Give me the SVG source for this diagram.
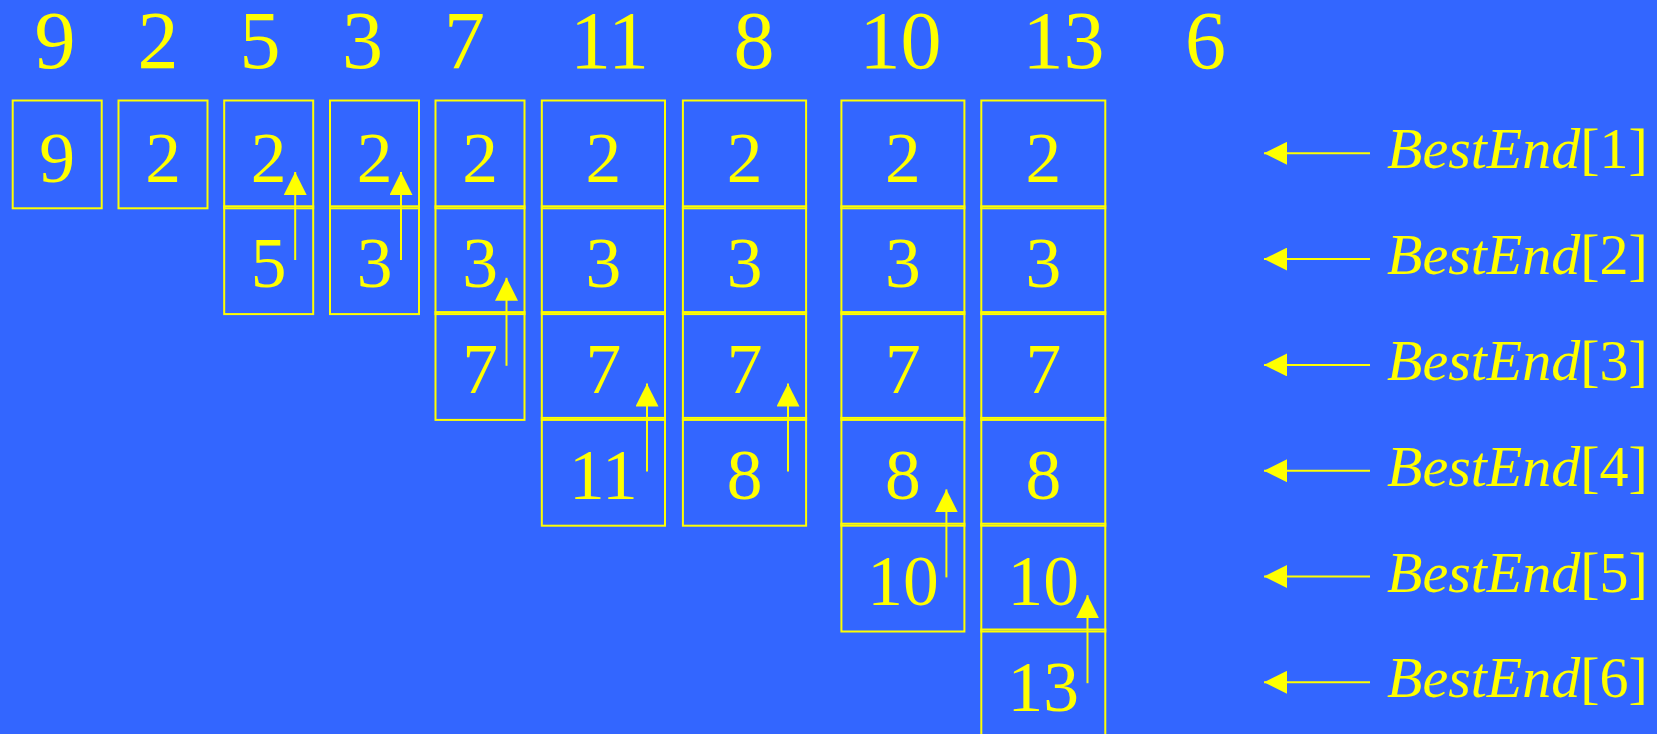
<svg xmlns="http://www.w3.org/2000/svg" width="1657" height="734" viewBox="0 0 1657 734">
<defs>
<style>
.bg{fill:#3366FF}
.cell{fill:none;stroke:#FFFF00;stroke-width:2}
.top{font-family:"Liberation Serif","Times New Roman",serif;font-size:82px;fill:#FFFF00;text-anchor:middle}
.num{font-family:"Liberation Serif","Times New Roman",serif;font-size:71.5px;fill:#FFFF00;text-anchor:middle}
.lbl{font-family:"Liberation Serif","Times New Roman",serif;font-size:58px;fill:#FFFF00}
.lbl .it{font-style:italic}
.arr{stroke:#FFFF00;stroke-width:2;fill:none}
</style>
<marker id="ah" markerUnits="userSpaceOnUse" markerWidth="23" markerHeight="23" refX="22.7" refY="11.35" orient="auto" viewBox="0 0 22.7 22.7">
<path d="M0,0 L22.7,11.35 L0,22.7 z" fill="#FFFF00"/>
</marker>
</defs>
<rect class="bg" x="0" y="0" width="1657" height="734"/>

<g id="sequence">
<text class="top" x="55" y="68.3">9</text>
<text class="top" x="158" y="68.3">2</text>
<text class="top" x="260" y="68.3">5</text>
<text class="top" x="362.5" y="68.3">3</text>
<text class="top" x="464.5" y="68.3">7</text>
<text class="top" x="609.5" y="68.3">11</text>
<text class="top" x="754" y="68.3">8</text>
<text class="top" x="900.5" y="68.3">10</text>
<text class="top" x="1063.5" y="68.3">13</text>
<text class="top" x="1205.5" y="68.3">6</text>
</g>

<g id="col1">
<rect class="cell" x="12.7" y="100.5" width="89" height="107.8"/>
<text class="num" x="57.2" y="181.5">9</text>
</g>
<g id="col2">
<rect class="cell" x="118.5" y="100.5" width="89" height="107.8"/>
<text class="num" x="163" y="181.5">2</text>
</g>
<g id="col3">
<rect class="cell" x="224.2" y="100.5" width="89" height="107.8"/>
<rect class="cell" x="224.2" y="206.3" width="89" height="107.8"/>
<text class="num" x="268.7" y="181.5">2</text>
<text class="num" x="268.7" y="287.3">5</text>
</g>
<g id="col4">
<rect class="cell" x="330" y="100.5" width="89" height="107.8"/>
<rect class="cell" x="330" y="206.3" width="89" height="107.8"/>
<text class="num" x="374.5" y="181.5">2</text>
<text class="num" x="374.5" y="287.3">3</text>
</g>
<g id="col5">
<rect class="cell" x="435.5" y="100.5" width="89" height="107.8"/>
<rect class="cell" x="435.5" y="206.3" width="89" height="107.8"/>
<rect class="cell" x="435.5" y="312.1" width="89" height="107.8"/>
<text class="num" x="480" y="181.5">2</text>
<text class="num" x="480" y="287.3">3</text>
<text class="num" x="480" y="393.1">7</text>
</g>
<g id="col6">
<rect class="cell" x="541.8" y="100.5" width="123.2" height="107.8"/>
<rect class="cell" x="541.8" y="206.3" width="123.2" height="107.8"/>
<rect class="cell" x="541.8" y="312.1" width="123.2" height="107.8"/>
<rect class="cell" x="541.8" y="417.9" width="123.2" height="107.8"/>
<text class="num" x="603.4" y="181.5">2</text>
<text class="num" x="603.4" y="287.3">3</text>
<text class="num" x="603.4" y="393.1">7</text>
<text class="num" x="603.4" y="498.9">11</text>
</g>
<g id="col7">
<rect class="cell" x="682.9" y="100.5" width="123.2" height="107.8"/>
<rect class="cell" x="682.9" y="206.3" width="123.2" height="107.8"/>
<rect class="cell" x="682.9" y="312.1" width="123.2" height="107.8"/>
<rect class="cell" x="682.9" y="417.9" width="123.2" height="107.8"/>
<text class="num" x="744.5" y="181.5">2</text>
<text class="num" x="744.5" y="287.3">3</text>
<text class="num" x="744.5" y="393.1">7</text>
<text class="num" x="744.5" y="498.9">8</text>
</g>
<g id="col8">
<rect class="cell" x="841.4" y="100.5" width="123" height="107.8"/>
<rect class="cell" x="841.4" y="206.3" width="123" height="107.8"/>
<rect class="cell" x="841.4" y="312.1" width="123" height="107.8"/>
<rect class="cell" x="841.4" y="417.9" width="123" height="107.8"/>
<rect class="cell" x="841.4" y="523.7" width="123" height="107.8"/>
<text class="num" x="902.9" y="181.5">2</text>
<text class="num" x="902.9" y="287.3">3</text>
<text class="num" x="902.9" y="393.1">7</text>
<text class="num" x="902.9" y="498.9">8</text>
<text class="num" x="902.9" y="604.7">10</text>
</g>
<g id="col9">
<rect class="cell" x="981.3" y="100.5" width="124" height="107.8"/>
<rect class="cell" x="981.3" y="206.3" width="124" height="107.8"/>
<rect class="cell" x="981.3" y="312.1" width="124" height="107.8"/>
<rect class="cell" x="981.3" y="417.9" width="124" height="107.8"/>
<rect class="cell" x="981.3" y="523.7" width="124" height="107.8"/>
<rect class="cell" x="981.3" y="629.5" width="124" height="107.8"/>
<text class="num" x="1043.3" y="181.5">2</text>
<text class="num" x="1043.3" y="287.3">3</text>
<text class="num" x="1043.3" y="393.1">7</text>
<text class="num" x="1043.3" y="498.9">8</text>
<text class="num" x="1043.3" y="604.7">10</text>
<text class="num" x="1043.3" y="710.5">13</text>
</g>

<g id="labels">
<text class="lbl" x="1387" y="168.3"><tspan class="it">BestEnd</tspan>[1]</text>
<text class="lbl" x="1387" y="274.1"><tspan class="it">BestEnd</tspan>[2]</text>
<text class="lbl" x="1387" y="379.9"><tspan class="it">BestEnd</tspan>[3]</text>
<text class="lbl" x="1387" y="485.7"><tspan class="it">BestEnd</tspan>[4]</text>
<text class="lbl" x="1387" y="591.5"><tspan class="it">BestEnd</tspan>[5]</text>
<text class="lbl" x="1387" y="697.3"><tspan class="it">BestEnd</tspan>[6]</text>
</g>

<g id="connectors">
<line class="arr" x1="295.2" y1="260" x2="295.2" y2="172" marker-end="url(#ah)"/>
<line class="arr" x1="401" y1="260" x2="401" y2="172" marker-end="url(#ah)"/>
<line class="arr" x1="506.5" y1="365.8" x2="506.5" y2="277.8" marker-end="url(#ah)"/>
<line class="arr" x1="647" y1="471.6" x2="647" y2="383.6" marker-end="url(#ah)"/>
<line class="arr" x1="788" y1="471.6" x2="788" y2="383.6" marker-end="url(#ah)"/>
<line class="arr" x1="946.4" y1="577.4" x2="946.4" y2="489.4" marker-end="url(#ah)"/>
<line class="arr" x1="1087.5" y1="683.2" x2="1087.5" y2="595.2" marker-end="url(#ah)"/>
<line class="arr" x1="1370" y1="153.3" x2="1264" y2="153.3" marker-end="url(#ah)"/>
<line class="arr" x1="1370" y1="259.1" x2="1264" y2="259.1" marker-end="url(#ah)"/>
<line class="arr" x1="1370" y1="364.9" x2="1264" y2="364.9" marker-end="url(#ah)"/>
<line class="arr" x1="1370" y1="470.7" x2="1264" y2="470.7" marker-end="url(#ah)"/>
<line class="arr" x1="1370" y1="576.5" x2="1264" y2="576.5" marker-end="url(#ah)"/>
<line class="arr" x1="1370" y1="682.3" x2="1264" y2="682.3" marker-end="url(#ah)"/>
</g>
</svg>
